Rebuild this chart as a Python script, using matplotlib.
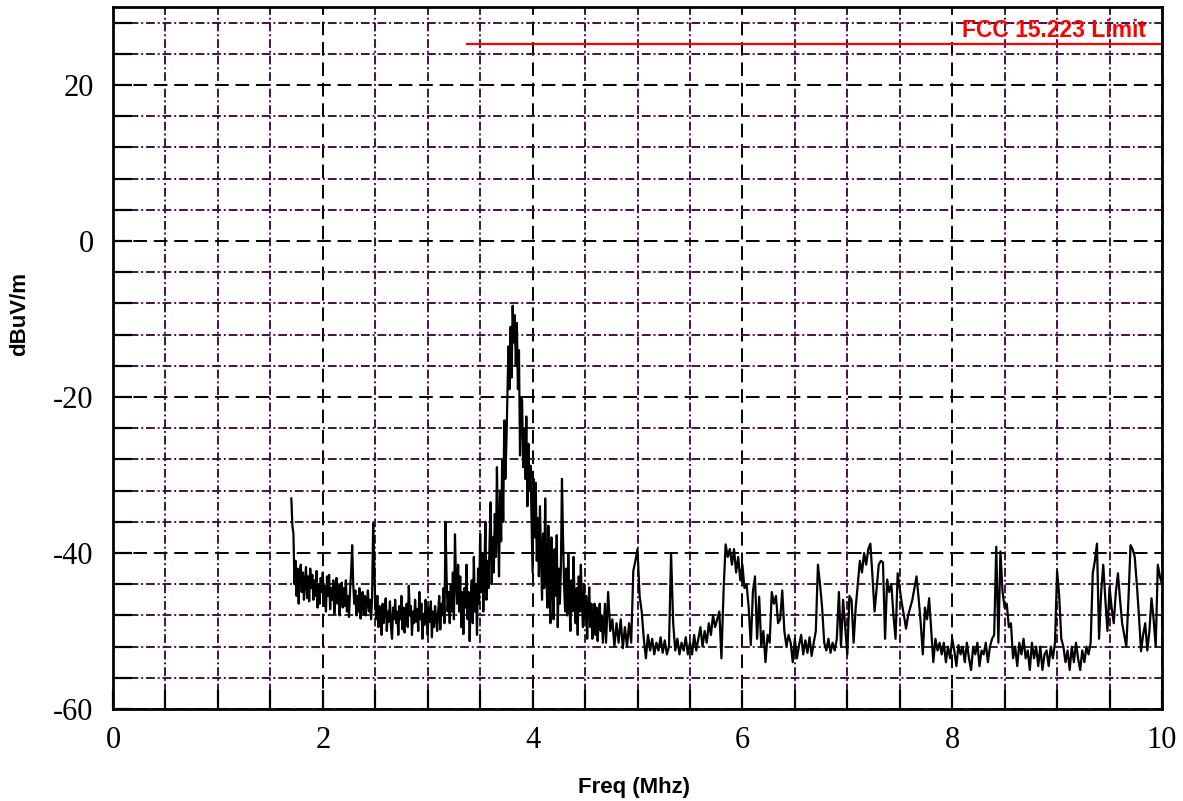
import numpy as np
import matplotlib
matplotlib.use("Agg")
import matplotlib.pyplot as plt
from matplotlib.ticker import MultipleLocator

plt.rcParams["axes.unicode_minus"] = False

# ---------------- data ----------------
# dense part of the sweep: 1.70 .. 4.69 MHz, 0.01 MHz steps
dense_start = 1.70
dense_step = 0.01
dense_level = [
    -33.0, -36.5, -37.5, -44.0, -41.0, -45.5, -42.0, -46.5, -43.0, -41.5,
    -45.0, -42.5, -46.0, -43.5, -41.8, -45.8, -43.0, -46.2, -42.0, -44.5,
    -42.8, -46.0, -43.5, -45.5, -42.3, -47.0, -44.0, -46.5, -43.2, -45.0,
    -42.5, -46.8, -44.2, -47.5, -43.0, -45.5, -42.8, -47.2, -44.5, -46.0,
    -43.5, -47.8, -45.0, -43.2, -46.5, -44.0, -48.0, -45.2, -43.8, -47.0,
    -44.5, -46.8, -43.5, -47.5, -45.5, -48.2, -44.8, -42.5, -39.0, -44.0,
    -46.5, -44.8, -48.0, -45.5, -47.5, -44.5, -48.4, -46.0, -45.0, -47.8,
    -45.5, -48.0, -46.2, -44.8, -47.5, -46.0, -48.5, -45.8, -36.2, -41.0,
    -46.5, -48.5, -45.5, -49.5, -46.8, -48.0, -50.5, -46.5, -49.0, -47.2,
    -45.8, -50.0, -47.5, -48.8, -46.2, -49.5, -51.0, -47.0, -48.5, -46.0,
    -49.0, -47.5, -50.5, -46.8, -48.5, -45.5, -49.8, -47.0, -50.2, -48.0,
    -46.5, -49.5, -44.2, -48.0, -46.8, -50.5, -47.5, -49.0, -46.0, -48.8,
    -47.2, -50.0, -45.0, -48.5, -46.5, -51.0, -47.8, -49.2, -46.0, -48.0,
    -50.5, -47.0, -48.8, -46.2, -50.8, -47.5, -49.5, -46.8, -48.2, -50.0,
    -47.5, -45.5, -49.8, -46.5, -48.0, -44.5, -49.0, -36.0, -43.0, -47.5,
    -45.0, -49.0, -44.0, -47.5, -42.5, -48.5, -37.6, -43.5, -46.5, -41.5,
    -47.5, -43.0, -49.5, -45.0, -50.4, -44.5, -47.0, -41.5, -48.5, -45.0,
    -51.3, -46.0, -43.5, -49.0, -40.5, -47.5, -44.0, -50.5, -42.0, -46.5,
    -37.5, -45.0, -40.0, -47.5, -42.5, -36.0, -46.0, -41.0, -44.5, -38.5,
    -33.5, -44.0, -38.0, -42.5, -35.0, -40.5, -29.0, -37.0, -43.0, -32.0,
    -38.5, -28.0, -36.0, -23.0, -30.5, -26.0, -20.0, -13.5, -19.0, -11.0,
    -17.5, -8.3, -13.0, -9.5, -16.0, -10.5, -19.0, -14.0, -27.5, -20.0,
    -20.5, -29.0, -24.0, -30.5, -22.5, -34.0, -26.0, -32.0, -28.8, -36.0,
    -42.5, -30.5, -38.0, -31.0, -41.0, -35.5, -43.0, -34.0, -40.0, -46.0,
    -37.5, -44.5, -33.0, -42.0, -47.0, -36.5, -45.0, -49.0, -38.0, -44.0,
    -48.5, -39.5, -45.5, -37.7, -49.5, -42.0, -46.5, -41.5, -30.5, -38.0,
    -44.0, -47.5, -42.0, -48.0, -40.0, -45.5, -50.0, -43.5, -47.5, -40.5,
    -46.0, -49.0, -44.5, -50.5, -43.0, -47.5, -41.5, -46.5, -49.5, -44.0,
    -48.5, -45.5, -51.0, -47.0, -44.4, -49.5, -46.5, -51.0, -48.0, -46.5,
    -50.5, -47.0, -51.3, -48.5, -46.5, -50.0, -48.0, -51.5, -49.0, -46.5,
]
# coarser part of the sweep: 4.70 .. 10.00 MHz, 0.02 MHz steps
coarse_start = 4.70
coarse_step = 0.02
coarse_level = [
    -51.5, -45.0, -50.0, -48.5, -52.0, -49.0, -51.5, -48.5, -52.2, -49.5,
    -52.0, -49.0, -51.5, -42.3, -41.0, -39.5, -45.5, -47.5, -51.0, -53.5,
    -50.5, -52.5, -51.0, -53.0, -51.5, -52.5, -50.8, -52.8, -51.2, -53.0,
    -52.0, -40.0, -49.0, -52.5, -51.0, -53.0, -51.5, -52.5, -50.8, -53.0,
    -51.5, -53.0, -50.5, -52.5, -51.0, -49.5, -52.0, -50.0, -51.5, -49.0,
    -50.5, -48.0, -49.5, -48.5, -47.5, -53.5, -45.0, -38.9, -40.5, -39.5,
    -41.5, -39.5, -42.5, -40.5, -43.5, -41.5, -44.5, -44.0, -47.0, -51.8,
    -45.0, -43.0, -51.0, -45.6, -52.0, -50.0, -54.0, -50.5, -51.5, -45.0,
    -46.5, -45.5, -49.0, -48.5, -44.8, -50.0, -52.0, -50.5, -51.5, -54.0,
    -51.0, -53.5, -51.8, -50.5, -53.0, -51.2, -52.8, -50.8, -53.2, -51.5,
    -50.0, -41.5, -44.0, -47.0, -51.5, -52.5, -51.0, -52.8, -51.5, -52.5,
    -51.0, -45.0, -52.0, -46.0, -49.5, -53.0, -45.5, -46.0, -51.5, -47.0,
    -44.0, -41.0, -42.5, -40.0, -41.5, -39.5, -38.8, -43.0, -47.5, -44.5,
    -41.5, -41.0, -41.2, -51.0, -43.4, -45.0, -44.0, -48.0, -51.0, -42.6,
    -44.5, -46.5, -48.0, -49.7, -48.0, -47.0, -46.0, -44.5, -43.0, -45.8,
    -49.0, -53.0, -47.0, -48.5, -45.8, -50.0, -54.0, -51.0, -52.5, -51.5,
    -53.0, -51.5, -54.0, -52.0, -53.5, -51.0, -52.5, -54.5, -51.8, -53.0,
    -52.0, -54.0, -51.5, -53.5, -55.0, -52.0, -53.0, -51.5, -54.5, -52.5,
    -53.0, -51.5, -54.0, -52.0, -51.0, -50.5, -39.2, -51.5, -39.8, -45.0,
    -47.0, -46.5, -49.5, -49.0, -53.5, -52.0, -54.5, -51.5, -53.0, -51.0,
    -53.5, -52.5, -55.0, -51.5, -53.5, -52.0, -54.5, -52.0, -55.0, -53.0,
    -52.5, -54.5, -52.0, -53.5, -51.5, -42.3, -45.5, -51.0, -52.0, -54.0,
    -52.5, -55.0, -52.0, -54.0, -51.5, -53.5, -55.0, -52.5, -54.0, -52.0,
    -53.0, -51.5, -42.6, -41.0, -38.8, -51.0, -45.0, -41.5, -46.0, -50.0,
    -44.4, -47.0, -49.0, -45.0, -42.6, -46.0, -49.0, -50.5, -52.0, -46.0,
    -39.0, -39.5, -40.5, -44.0, -48.0, -52.6, -50.5, -49.0, -52.5, -50.0,
    -45.8, -48.5, -52.0, -41.5, -43.0, -44.0,
]

freq = np.concatenate([
    dense_start + dense_step * np.arange(len(dense_level)),
    coarse_start + coarse_step * np.arange(len(coarse_level)),
])
level = np.array(dense_level + coarse_level)

limit_label = "FCC 15.223 Limit"
limit_level = 25.2
limit_start = 3.37
limit_end = 10.0

x_label = "Freq (Mhz)"
y_label = "dBuV/m"

# ---------------- figure ----------------
fig = plt.figure(figsize=(11.83, 8.01), dpi=100)
ax = fig.add_axes([113 / 1183, 1 - 709 / 801, (1162 - 113) / 1183, (709 - 7) / 801])

ax.set_xlim(0, 10)
ax.set_ylim(-60, 30)

ax.xaxis.set_major_locator(MultipleLocator(2))
ax.xaxis.set_minor_locator(MultipleLocator(0.5))
ax.yaxis.set_major_locator(MultipleLocator(20))
ax.yaxis.set_minor_locator(MultipleLocator(4))

purple = "#45104a"
ax.grid(which="major", color="black", linestyle=(0, (7, 3.5)), linewidth=1.4)
ax.grid(which="minor", color=purple, linestyle=(0, (4.5, 1.5, 1, 1.5)), linewidth=1.4)
ax.set_axisbelow(True)

ax.tick_params(which="both", direction="in", length=14, width=1.6,
               top=False, right=False, labelsize=22)
ax.tick_params(axis="x", which="both", pad=12)
ax.tick_params(axis="y", which="both", pad=14)
for lab in ax.get_xticklabels() + ax.get_yticklabels():
    lab.set_fontfamily("Liberation Serif")
for s in ax.spines.values():
    s.set_linewidth(2.0)
    s.set_zorder(5)

ax.plot(freq, level, color="black", linewidth=1.6, zorder=3)

ax.plot([limit_start, limit_end], [limit_level, limit_level], color="#ff0000",
        linewidth=1.6, zorder=3)
ax.text(9.845, 27.0, limit_label, color="#ff0000", fontsize=16.5, fontweight="bold",
        family="Liberation Sans", ha="right", va="center", zorder=4)

ax.set_xlabel(x_label, fontsize=16, fontweight="bold", family="Liberation Sans")
ax.set_ylabel(y_label, fontsize=16, fontweight="bold", family="Liberation Sans")
ax.xaxis.set_label_coords(0.497, -0.097)
ax.yaxis.set_label_coords(-0.079, 0.563)

fig.savefig("out.png", dpi=100)
